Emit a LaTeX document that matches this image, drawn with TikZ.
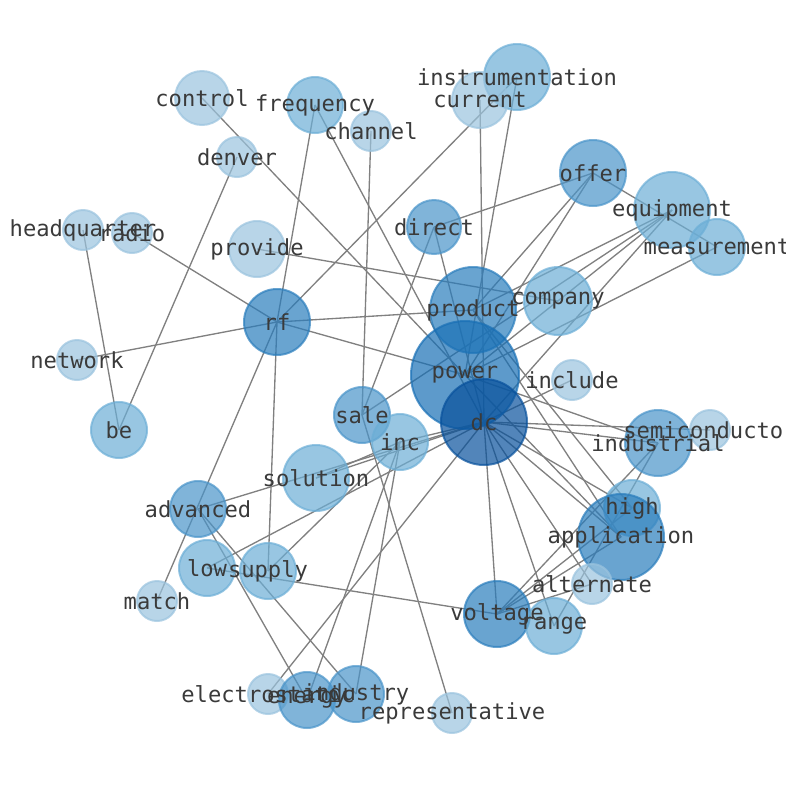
\documentclass[tikz,border=0pt]{standalone}
\usepackage{fontspec}
\setmonofont{DejaVu Sans Mono}
\usetikzlibrary{backgrounds}
\definecolor{blueA}{HTML}{9AC3DE}
\definecolor{blueB}{HTML}{6CAED6}
\definecolor{blueC}{HTML}{4A94C9}
\definecolor{blueD}{HTML}{2A7DBC}
\definecolor{blueE}{HTML}{186FB5}
\definecolor{blueF}{HTML}{08519C}
\definecolor{wordtext}{HTML}{3A3A3A}
\tikzset{
  word/.style={circle, inner sep=0pt, line width=1.5pt,
               fill opacity=0.7, draw opacity=0.7},
  wordA/.style={word, fill=blueA, draw=blueA},
  wordB/.style={word, fill=blueB, draw=blueB},
  wordC/.style={word, fill=blueC, draw=blueC},
  wordD/.style={word, fill=blueD, draw=blueD},
  wordE/.style={word, fill=blueE, draw=blueE},
  wordF/.style={word, fill=blueF, draw=blueF},
  rad/.style={minimum size=#1*1.5pt},
  lbl/.style={font=\ttfamily\fontsize{16.6}{18}\selectfont, text=wordtext, inner sep=0pt},
  link/.style={draw=black!50, line width=1pt},
}

\begin{document}
\begin{tikzpicture}[x=0.75pt, y=-0.75pt]
  \useasboundingbox (0,0) rectangle (794,790);
  \clip (0,0) rectangle (785,790);
  % words
  \node[wordA, rad=27] (control) at (202,98) {};
  \node[wordB, rad=28] (frequency) at (315,105) {};
  \node[wordA, rad=20] (channel) at (371,131) {};
  \node[wordB, rad=33] (instrumentation) at (517,77) {};
  \node[wordA, rad=28] (current) at (480,100) {};
  \node[wordA, rad=20] (denver) at (237,157) {};
  \node[wordC, rad=33] (offer) at (593,173) {};
  \node[wordB, rad=38] (equipment) at (672,210) {};
  \node[wordB, rad=28] (measurement) at (717,247) {};
  \node[wordC, rad=27] (direct) at (434,227) {};
  \node[wordA, rad=20] (headquarter) at (83,230) {};
  \node[wordA, rad=20] (radio) at (132,233) {};
  \node[wordA, rad=28] (provide) at (257,249) {};
  \node[wordD, rad=43] (product) at (473,310) {};
  \node[wordB, rad=34] (company) at (558,301) {};
  \node[wordD, rad=33] (rf) at (277,322) {};
  \node[wordA, rad=20] (network) at (77,360) {};
  \node[wordE, rad=54] (power) at (465,375) {};
  \node[wordA, rad=20] (include) at (572,380) {};
  \node[wordF, rad=43] (dc) at (484,422) {};
  \node[wordC, rad=28] (sale) at (362,415) {};
  \node[wordB, rad=28] (inc) at (400,442) {};
  \node[wordB, rad=28] (be) at (119,430) {};
  \node[wordA, rad=20] (semiconductor) at (710,430) {};
  \node[wordC, rad=33] (industrial) at (658,443) {};
  \node[wordB, rad=33] (solution) at (316,478) {};
  \node[wordC, rad=28] (advanced) at (198,509) {};
  \node[wordB, rad=28] (high) at (632,508) {};
  \node[wordD, rad=43] (application) at (621,537) {};
  \node[wordB, rad=28] (low) at (207,568) {};
  \node[wordB, rad=28] (supply) at (268,571) {};
  \node[wordA, rad=20] (match) at (157,601) {};
  \node[wordA, rad=20] (alternate) at (592,584) {};
  \node[wordD, rad=33] (voltage) at (497,614) {};
  \node[wordB, rad=28] (range) at (554,626) {};
  \node[wordA, rad=20] (electrostatic) at (268,694) {};
  \node[wordC, rad=28] (energy) at (307,700) {};
  \node[wordC, rad=28] (industry) at (356,694) {};
  \node[wordA, rad=20] (representative) at (452,713) {};
  % labels on top
  \foreach \w in {control, frequency, channel, instrumentation, current, denver,
      offer, equipment, measurement, direct, headquarter, radio, provide, product,
      company, rf, network, power, include, dc, sale, inc, be, semiconductor,
      industrial, solution, advanced, high, application, low, supply, match,
      alternate, voltage, range, electrostatic, energy, industry, representative}
    \node[lbl] (l-\w) at (\w) {\w};
  % links behind the words
  \begin{pgfonlayer}{background}
    \foreach \a/\b in {rf/frequency, rf/radio, rf/network, rf/instrumentation,
        rf/product, rf/power, rf/supply, rf/match, be/headquarter, be/denver,
        control/power, frequency/dc, channel/sale, current/dc, instrumentation/power,
        offer/direct, offer/measurement, offer/product, offer/power,
        equipment/product, equipment/power, equipment/dc, equipment/sale,
        measurement/power, direct/sale, direct/dc, provide/company, include/dc,
        power/industrial, dc/industrial, dc/semiconductor, dc/high, dc/application,
        power/application, product/application, product/high, dc/alternate,
        dc/range, dc/voltage, industrial/voltage, industrial/range,
        voltage/application, voltage/high, voltage/alternate, low/voltage,
        supply/inc, low/dc, advanced/dc, advanced/energy, advanced/industry,
        solution/inc, solution/dc, inc/energy, inc/industry, inc/dc,
        sale/representative, dc/electrostatic}
      \draw[link] (\a.center) -- (\b.center);
  \end{pgfonlayer}
\end{tikzpicture}
\end{document}
